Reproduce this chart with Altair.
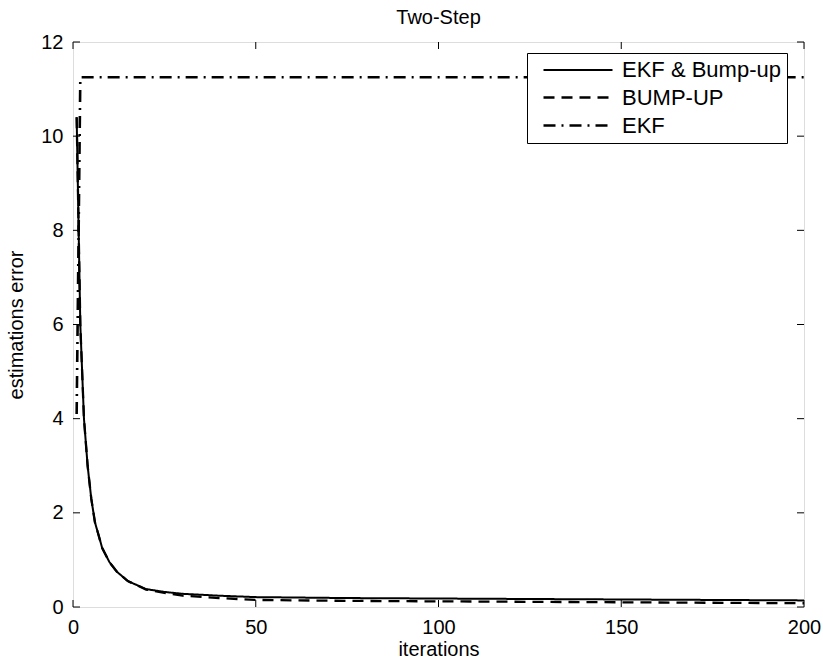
import altair as alt
import pandas as pd

# ---- data ----
series_names = ["EKF & Bump-up", "BUMP-UP", "EKF"]

iterations = [1, 2, 3, 4, 5, 6, 8, 10, 12, 15, 20, 25, 30, 40, 50, 75, 100, 125, 150, 175, 200]
ekf_bump = [10.4, 6.0, 4.0, 3.0, 2.3, 1.8, 1.25, 0.95, 0.75, 0.55, 0.38, 0.32, 0.28, 0.24, 0.21,
            0.19, 0.18, 0.17, 0.16, 0.15, 0.14]
bump_up = [10.4, 6.0, 4.0, 3.0, 2.3, 1.8, 1.25, 0.95, 0.75, 0.55, 0.37, 0.30, 0.24, 0.19, 0.15,
           0.13, 0.12, 0.11, 0.10, 0.09, 0.08]
ekf_iter = [1, 2, 50, 100, 150, 200]
ekf = [4.1, 11.25, 11.25, 11.25, 11.25, 11.25]

x_ticks = [0, 50, 100, 150, 200]
y_ticks = [0, 2, 4, 6, 8, 10, 12]

rows = []
for x, v in zip(iterations, ekf_bump):
    rows.append({"it": x, "err": v, "series": series_names[0]})
for x, v in zip(iterations, bump_up):
    rows.append({"it": x, "err": v, "series": series_names[1]})
for x, v in zip(ekf_iter, ekf):
    rows.append({"it": x, "err": v, "series": series_names[2]})
df = pd.DataFrame(rows)

W, H = 731, 565
FONT = "Liberation Sans"

xscale = alt.Scale(domain=[0, 200], nice=False, zero=False)
yscale = alt.Scale(domain=[0, 12], nice=False, zero=False)

lines = alt.Chart(df).mark_line(color="black", clip=True).encode(
    x=alt.X("it:Q", scale=xscale,
            axis=alt.Axis(values=x_ticks, title="iterations", tickSize=0, domain=False,
                          grid=False, labelFontSize=20, labelPadding=10, titleFontSize=20,
                          titleFontWeight="normal", titlePadding=2, labelFont=FONT,
                          titleFont=FONT, labelColor="black", titleColor="black",
                          labelFlush=False)),
    y=alt.Y("err:Q", scale=yscale,
            axis=alt.Axis(values=y_ticks, title="estimations error", tickSize=0, domain=False,
                          grid=False, labelFontSize=20, labelPadding=10, titleFontSize=20,
                          titleFontWeight="normal", titlePadding=14, labelFont=FONT,
                          titleFont=FONT, labelColor="black", titleColor="black",
                          labelFlush=False)),
    strokeDash=alt.StrokeDash(
        "series:N",
        scale=alt.Scale(domain=series_names, range=[[1, 0], [11, 7], [12, 6, 2, 6]]),
        legend=alt.Legend(title=None, orient="none", legendX=454, legendY=11,
                          symbolType="M-0.1,0H6.8", symbolSize=400,
                          symbolStrokeColor="black", labelFontSize=22, labelFont=FONT,
                          labelColor="black", labelOffset=66, rowPadding=5,
                          strokeColor="black", fillColor="white", padding=6,
                          cornerRadius=0),
    ),
    strokeWidth=alt.StrokeWidth(
        "series:N",
        scale=alt.Scale(domain=series_names, range=[2.0, 2.6, 2.0]),
        legend=None,
    ),
    detail="series:N",
    order="it:Q",
)

xt = pd.DataFrame({"v": x_ticks})
yt = pd.DataFrame({"v": y_ticks})

tick_bottom = alt.Chart(xt).mark_rule(color="black", strokeWidth=1).encode(
    x=alt.X("v:Q", scale=xscale), y=alt.value(H), y2=alt.value(H - 7))
tick_top = alt.Chart(xt).mark_rule(color="black", strokeWidth=1).encode(
    x=alt.X("v:Q", scale=xscale), y=alt.value(0), y2=alt.value(7))
tick_left = alt.Chart(yt).mark_rule(color="black", strokeWidth=1).encode(
    y=alt.Y("v:Q", scale=yscale), x=alt.value(0), x2=alt.value(7))
tick_right = alt.Chart(yt).mark_rule(color="black", strokeWidth=1).encode(
    y=alt.Y("v:Q", scale=yscale), x=alt.value(W), x2=alt.value(W - 7))

chart = alt.layer(tick_bottom, tick_top, tick_left, tick_right, lines).properties(
    width=W, height=H,
    title=alt.TitleParams("Two-Step", fontSize=20, fontWeight="normal", font=FONT,
                          color="black", anchor="middle", offset=4),
    padding={"left": 73, "top": 42, "right": 19, "bottom": 57},
    autosize=alt.AutoSizeParams(type="none"),
).configure_view(stroke="black", strokeWidth=1.5).configure(background="white")

chart.save("out.html", embed_options={"renderer": "svg", "actions": False})
